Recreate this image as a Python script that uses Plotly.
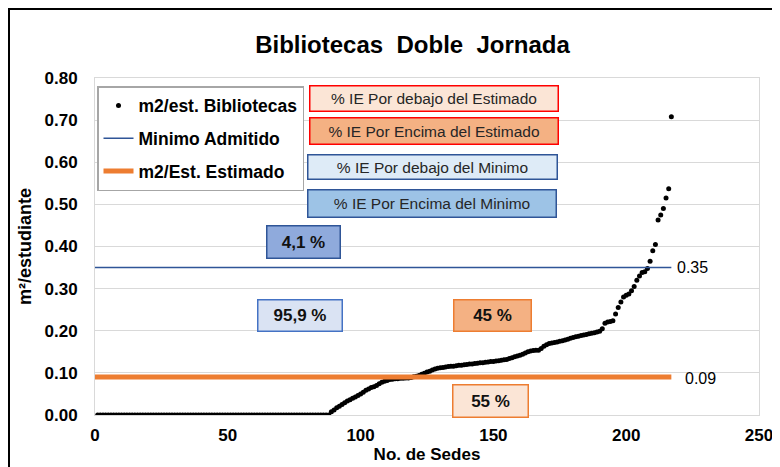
import plotly.graph_objects as go

# ---------------- data ----------------
n_zero = 88
rising = [
    0.008, 0.012, 0.017, 0.021, 0.025, 0.029, 0.033, 0.036, 0.040, 0.043,
    0.046, 0.050, 0.054, 0.059, 0.062, 0.065, 0.067, 0.070, 0.074, 0.078,
    0.080, 0.082, 0.084, 0.085, 0.086, 0.086, 0.087, 0.087, 0.088, 0.088,
    0.089, 0.091, 0.092, 0.094, 0.097, 0.099, 0.102, 0.104, 0.107, 0.109,
    0.111, 0.112, 0.113, 0.114, 0.115, 0.116, 0.116, 0.117, 0.118, 0.118,
    0.119, 0.120, 0.121, 0.121, 0.122, 0.123, 0.124, 0.124, 0.125, 0.126,
    0.127, 0.127, 0.128, 0.129, 0.130, 0.131, 0.132, 0.134, 0.136, 0.138,
    0.140, 0.142, 0.144, 0.147, 0.150, 0.152, 0.153, 0.154, 0.154, 0.158,
    0.163, 0.167, 0.170, 0.171, 0.172, 0.173, 0.175, 0.176, 0.178, 0.180,
    0.182, 0.184, 0.186, 0.187, 0.189, 0.190, 0.191, 0.193, 0.194, 0.195,
    0.197, 0.199, 0.205, 0.218, 0.221, 0.222, 0.224, 0.240, 0.255, 0.268,
    0.280, 0.284, 0.287, 0.295, 0.305, 0.320, 0.330, 0.338, 0.340, 0.348,
    0.365, 0.390, 0.405, 0.463, 0.475, 0.490, 0.515, 0.537, 0.708,
]
valores = [0.0] * n_zero + rising
sedes = list(range(1, len(valores) + 1))

minimo_admitido = 0.35
estimado = 0.09
linea_x = [0, len(valores)]

box_texts = [
    "% IE Por debajo del Estimado",
    "% IE Por Encima del Estimado",
    "% IE Por debajo del Minimo",
    "% IE Por Encima del Minimo",
]
pct_texts = ["4,1 %", "95,9 %", "45 %", "55 %"]

# ---------------- layout helpers ----------------
# The page body adds an 8 px margin, so the figure starts at screen (8, 8).
OFF = 8
WIN_W, WIN_H = 780, 467
W, H = WIN_W - OFF, WIN_H - OFF
PL, PR, PT, PB = 95, 759, 78, 415  # plot area in screen pixels


def px(x):
    return (x - PL) / (PR - PL)


def py(y):
    return (PB - y) / (PB - PT)


FONT = "Arial, Liberation Sans, sans-serif"
BLUE = "#2F5597"
ORANGE = "#ED7D31"

fig = go.Figure()
fig.add_trace(go.Scatter(
    x=sedes, y=valores, mode="markers", name="<b>m2/est. Bibliotecas</b>",
    marker=dict(color="black", size=5), legendgroup="a",
))
fig.add_trace(go.Scatter(
    x=linea_x, y=[minimo_admitido] * 2, mode="lines", name="<b>Minimo Admitido</b>",
    line=dict(color=BLUE, width=1.5), legendgroup="b",
))
fig.add_trace(go.Scatter(
    x=linea_x, y=[estimado] * 2, mode="lines", name="<b>m2/Est. Estimado</b>",
    line=dict(color=ORANGE, width=5), legendgroup="c",
))

annotations = []
# value labels for lines
annotations.append(dict(x=linea_x[1], y=minimo_admitido, xref="x", yref="y",
                        text=f"{minimo_admitido:.2f}", showarrow=False, xanchor="left",
                        xshift=4, font=dict(size=16, color="black", family=FONT)))
annotations.append(dict(x=linea_x[1], y=estimado, xref="x", yref="y",
                        text=f"{estimado:.2f}", showarrow=False, xanchor="left",
                        xshift=12, yshift=-1, font=dict(size=16, color="black", family=FONT)))

# descriptive boxes: (cx, cy, w, h, fill, border) in screen pixels
box_geo = [
    (434, 98.5, 250, 27, "#FBE5D6", "#FF0000"),
    (434, 131, 250, 28, "#F4B183", "#FF0000"),
    (432.5, 167, 251, 26, "#DEEBF7", BLUE),
    (432, 203.5, 250, 29, "#9DC3E6", BLUE),
]
for t, (cx, cy, w, h, fill, bc) in zip(box_texts, box_geo):
    annotations.append(dict(x=px(cx), y=py(cy), xref="paper", yref="paper", text=t,
                            showarrow=False, xanchor="center", yanchor="middle",
                            width=w - 3, height=h - 3, borderpad=0, borderwidth=1.5,
                            bgcolor=fill, bordercolor=bc,
                            font=dict(size=15.5, color="#262626", family=FONT)))

pct_geo = [
    (303.5, 242, 75, 34, "#8FAADC", BLUE),
    (300, 315.5, 86, 33, "#DAE3F3", "#4472C4"),
    (492.5, 315.5, 79, 33, "#F4B183", ORANGE),
    (490.5, 401, 77, 34, "#FBE5D6", ORANGE),
]
for t, (cx, cy, w, h, fill, bc) in zip(pct_texts, pct_geo):
    annotations.append(dict(x=px(cx), y=py(cy), xref="paper", yref="paper",
                            text=f"<b>{t}</b>",
                            showarrow=False, xanchor="center", yanchor="middle",
                            width=w - 3, height=h - 3, borderpad=0, borderwidth=1.5,
                            bgcolor=fill, bordercolor=bc,
                            font=dict(size=17, color="#111111", family=FONT)))

fig.update_layout(
    width=W, height=H,
    margin=dict(l=PL - OFF, r=WIN_W - PR, t=PT - OFF, b=WIN_H - PB, autoexpand=False),
    paper_bgcolor="white", plot_bgcolor="white",
    font=dict(family=FONT, color="black"),
    title=dict(text="<b>Bibliotecas  Doble  Jornada</b>", x=(412.5 - OFF) / W,
               y=1 - (45 - OFF) / H,
               xref="container", yref="container", xanchor="center", yanchor="middle",
               automargin=False,
               font=dict(size=24, color="black", family=FONT)),
    showlegend=True,
    legend=dict(
        x=px(97), y=py(86), xanchor="left", yanchor="top",
        bgcolor="white", bordercolor="#A6A6A6", borderwidth=1.5,
        font=dict(size=17.5, color="black", family=FONT),
        tracegroupgap=7, itemwidth=30,
    ),
    annotations=annotations,
    shapes=[dict(type="rect", xref="paper", yref="paper",
                 x0=px(OFF + 1), x1=px(820), y0=py(520), y1=py(OFF + 1),
                 line=dict(color="black", width=2), layer="below")],
)
fig.update_xaxes(
    range=[0, 250], dtick=50, showgrid=False, zeroline=False, automargin=False,
    showline=True, mirror=True, linecolor="#D9D9D9", linewidth=1,
    tickfont=dict(size=17, color="black", family=FONT), tickprefix="<b>", ticksuffix="</b>",
    ticklabelstandoff=5,
    title=dict(text="<b>No. de Sedes</b>", font=dict(size=17, color="black", family=FONT), standoff=3),
)
fig.update_yaxes(
    range=[0, 0.8], dtick=0.1, tickformat=".2f", showgrid=True, gridcolor="#D9D9D9",
    zeroline=False, showline=True, mirror=True, linecolor="#D9D9D9", linewidth=1,
    automargin=False,
    tickfont=dict(size=17, color="black", family=FONT), tickprefix="<b>", ticksuffix="</b>",
    ticklabelstandoff=13,
    title=dict(text="<b>m²/estudiante</b>", font=dict(size=18, color="black", family=FONT), standoff=8),
)

fig.write_html("out.html")
